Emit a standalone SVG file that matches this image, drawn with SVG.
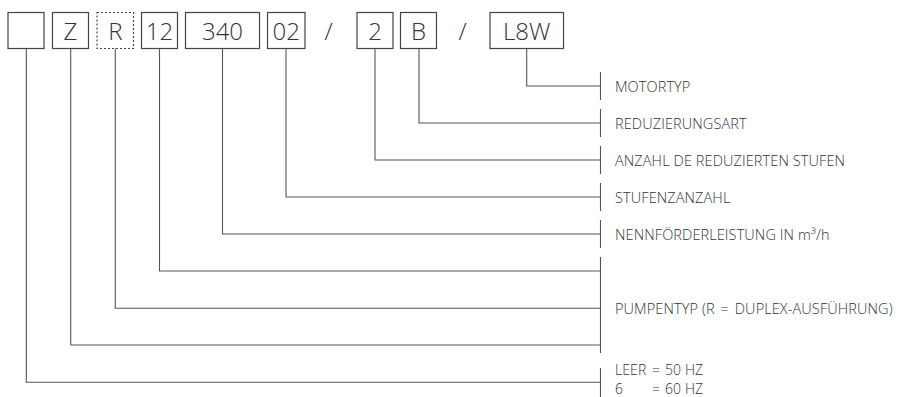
<svg xmlns="http://www.w3.org/2000/svg" width="898" height="397" viewBox="0 0 898 397">
<style>
.box{fill:#fff;stroke:#444;stroke-width:1.2}
.dash{fill:#fff;stroke:#444;stroke-width:1.2;stroke-dasharray:2 2}
.bt{font-family:"Open Sans","Liberation Sans",sans-serif;font-weight:300;font-size:24px;fill:#333;text-anchor:middle}
.lt{font-family:"Open Sans","Liberation Sans",sans-serif;font-weight:300;font-size:14.5px;fill:#333;letter-spacing:0.1px}
.sm{font-size:14px}
.ln{fill:none;stroke:#555;stroke-width:1.1}
</style>
<rect width="898" height="397" fill="#fff"/>
<g id="code">
<g id="n0"><rect class="box" x="8" y="12.5" width="36" height="36"/></g>
<g id="nZ"><rect class="box" x="52.5" y="12.5" width="36" height="36"/><text class="bt" x="70.5" y="40">Z</text></g>
<g id="nR"><rect class="dash" x="97" y="12.5" width="36.5" height="36"/><text class="bt" x="115.3" y="40">R</text></g>
<g id="n12"><rect class="box" x="141.5" y="12.5" width="36" height="36"/><text class="bt" x="159.5" y="40">12</text></g>
<g id="n340"><rect class="box" x="185.5" y="12.5" width="74" height="36"/><text class="bt" x="222.5" y="40">340</text></g>
<g id="n02"><rect class="box" x="267.5" y="12.5" width="37.5" height="36"/><text class="bt" x="286.3" y="40">02</text></g>
<g id="s1"><text class="bt" x="328.5" y="40">/</text></g>
<g id="n2"><rect class="box" x="357" y="12.5" width="36" height="36"/><text class="bt" x="375" y="40">2</text></g>
<g id="nB"><rect class="box" x="400.5" y="12.5" width="36" height="36"/><text class="bt" x="418.5" y="40">B</text></g>
<g id="s2"><text class="bt" x="462.5" y="40">/</text></g>
<g id="nL8W"><rect class="box" x="490" y="12.5" width="73.5" height="36"/><text class="bt" x="526.7" y="40">L8W</text></g>
</g>
<g id="connectors">
<path class="ln" d="M526.7 48.5V86H600.5"/>
<path class="ln" d="M419 48.5V123H600.5"/>
<path class="ln" d="M375 48.5V160H600.5"/>
<path class="ln" d="M286 48.5V197H600.5"/>
<path class="ln" d="M222.5 48.5V234H600.5"/>
<path class="ln" d="M159.5 48.5V271H600.5"/>
<path class="ln" d="M115.3 48.5V308.3H600.5"/>
<path class="ln" d="M70.7 48.5V345H600.5"/>
<path class="ln" d="M26.3 48.5V382.3H600.5"/>
<path class="ln" d="M600.5 72V100M600.5 109V137M600.5 146V174M600.5 183V211M600.5 220V248M600.5 257V353M600.5 368V397"/>
</g>
<g id="labels">
<text class="lt" x="615" y="91.5">MOTORTYP</text>
<text class="lt" x="615" y="128.5">REDUZIERUNGSART</text>
<text class="lt" x="615" y="165.5">ANZAHL DE REDUZIERTEN STUFEN</text>
<text class="lt" x="615" y="202.5">STUFENZANZAHL</text>
<text class="lt" x="615" y="239.5">NENNFÖRDERLEISTUNG IN m³/h</text>
<text class="lt" x="615" y="313.5">PUMPENTYP (R <tspan dx="2">=</tspan> <tspan dx="2">DUPLEX-AUSFÜHRUNG)</tspan></text>
<text class="lt sm" x="615" y="374.5">LEER<tspan x="652">=</tspan><tspan x="665">50 HZ</tspan></text>
<text class="lt sm" x="615" y="393.5">6<tspan x="652">=</tspan><tspan x="665">60 HZ</tspan></text>
</g>
</svg>
